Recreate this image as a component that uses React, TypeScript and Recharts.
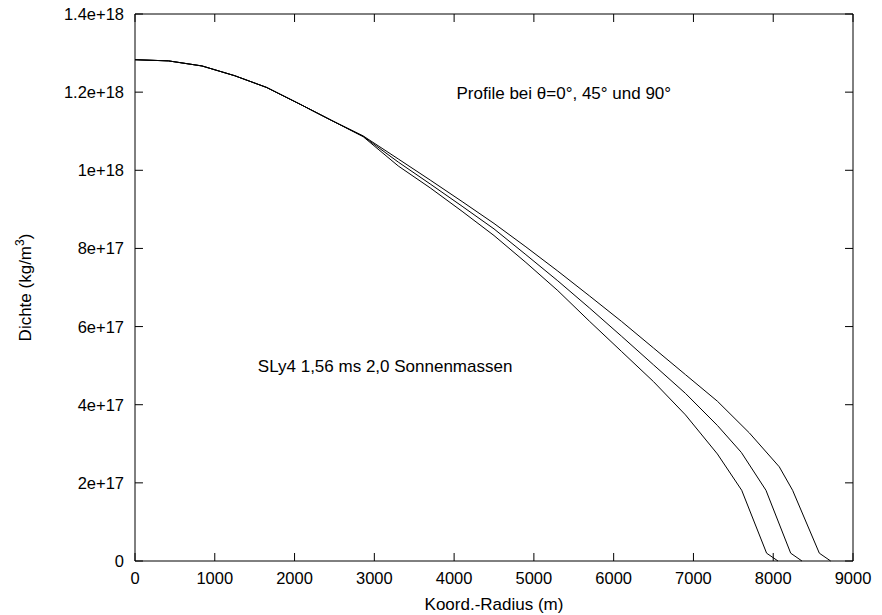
import { Line, LineChart, ReferenceDot, ReferenceLine, XAxis, YAxis } from 'recharts';

// density values are read in units of 1e17 kg/m^3
const UNIT = 1e17;

const X_MAX = 9000;
const Y_MAX = 1.4e18;
const xTicks = [0, 1000, 2000, 3000, 4000, 5000, 6000, 7000, 8000, 9000];
const yTicks = [0, 2e17, 4e17, 6e17, 8e17, 1e18, 1.2e18, 1.4e18];

// theta = 0 deg (innermost curve)
const radius0 = [0, 420, 840, 1250, 1650, 2070, 2460, 2860, 3300, 3700, 4100, 4500, 4900, 5300, 5700, 6100, 6500, 6900, 7300, 7605, 7917, 8060];
const density0 = [12.83, 12.8, 12.67, 12.42, 12.12, 11.69, 11.28, 10.86, 10.11, 9.55, 8.95, 8.33, 7.64, 6.92, 6.13, 5.36, 4.59, 3.74, 2.74, 1.81, 0.2, 0];

// theta = 45 deg
const radius45 = [0, 420, 840, 1250, 1650, 2070, 2460, 2860, 3300, 3700, 4100, 4500, 4900, 5300, 5700, 6100, 6500, 6900, 7300, 7600, 7909, 8219, 8360];
const density45 = [12.83, 12.8, 12.67, 12.42, 12.12, 11.69, 11.28, 10.87, 10.21, 9.65, 9.08, 8.5, 7.84, 7.17, 6.47, 5.75, 5.02, 4.29, 3.47, 2.78, 1.81, 0.2, 0];

// theta = 90 deg (outermost curve)
const radius90 = [0, 420, 840, 1250, 1650, 2070, 2460, 2860, 3300, 3700, 4100, 4500, 4900, 5300, 5700, 6100, 6500, 6900, 7300, 7700, 8076, 8243, 8578, 8720];
const density90 = [12.83, 12.8, 12.67, 12.42, 12.12, 11.69, 11.28, 10.88, 10.29, 9.75, 9.2, 8.64, 8.04, 7.42, 6.78, 6.13, 5.45, 4.77, 4.09, 3.28, 2.41, 1.81, 0.2, 0];

const toPoints = (radius: number[], density: number[]) =>
    radius.map((r, i) => ({ r, d: density[i] * UNIT }));

const series = [
    { key: 'theta0', data: toPoints(radius0, density0) },
    { key: 'theta45', data: toPoints(radius45, density45) },
    { key: 'theta90', data: toPoints(radius90, density90) },
];

const FONT = "'Liberation Sans', Arial, Helvetica, sans-serif";
const TICK_FONT = 16.5;
const TEXT_FONT = 17;
const X_GAP = 11;
const Y_GAP = 11;
// inward tick length (about 8 px) expressed in axis units
const TICK_DX = 100;
const TICK_DY = 2.05e16;

const formatY = (v: number) => (v === 0 ? '0' : v.toExponential());

const BottomTick = (props: any) => (
    <text x={props.x} y={props.y} dy="0.72em" textAnchor="middle" fill="#000" fontSize={TICK_FONT} fontFamily={FONT}>
        {props.payload.value}
    </text>
);

const LeftTick = (props: any) => (
    <text x={props.x} y={props.y} dy="0.36em" textAnchor="end" fill="#000" fontSize={TICK_FONT} fontFamily={FONT}>
        {formatY(props.payload.value)}
    </text>
);

const YTitle = (props: any) => {
    const vb = props.viewBox;
    const x = vb.x + 25;
    const y = vb.y + vb.height / 2;
    return (
        <text
            x={x}
            y={y}
            transform={`rotate(-90 ${x} ${y})`}
            textAnchor="middle"
            dy="0.36em"
            fill="#000"
            fontSize={TEXT_FONT}
            fontFamily={FONT}
        >
            Dichte (kg/m
            <tspan dy={-7} fontSize={12}>3</tspan>
            <tspan dy={7}>)</tspan>
        </text>
    );
};

const tickSegment = (key: string, a: { x: number; y: number }, b: { x: number; y: number }) => (
    <ReferenceLine
        key={key}
        xAxisId="bottom"
        yAxisId="left"
        segment={[a, b]}
        stroke="#000"
        strokeWidth={1}
        ifOverflow="visible"
    />
);

export default function App() {
    return (
        <div style={{ width: 882, height: 615, position: 'relative', top: -8, left: -8, fontFamily: FONT }}>
            <LineChart width={882} height={615} margin={{ top: 13, right: 28, bottom: 0, left: 0 }}>
                <XAxis
                    xAxisId="bottom"
                    type="number"
                    dataKey="r"
                    domain={[0, X_MAX]}
                    ticks={xTicks}
                    allowDataOverflow
                    height={54}
                    stroke="#000"
                    tickLine={false}
                    tickSize={0}
                    tickMargin={X_GAP}
                    tick={<BottomTick />}
                    interval={0}
                    label={{ value: 'Koord.-Radius (m)', position: 'insideBottom', offset: 5, fill: '#000', fontSize: TEXT_FONT, fontFamily: FONT }}
                />
                <XAxis
                    xAxisId="top"
                    orientation="top"
                    type="number"
                    domain={[0, X_MAX]}
                    height={1}
                    stroke="#000"
                    tickLine={false}
                    tick={false}
                />
                <YAxis
                    yAxisId="left"
                    type="number"
                    domain={[0, Y_MAX]}
                    ticks={yTicks}
                    width={135}
                    stroke="#000"
                    tickLine={false}
                    tickSize={0}
                    tickMargin={Y_GAP}
                    tick={<LeftTick />}
                    interval={0}
                    label={{ content: YTitle }}
                />
                <YAxis
                    yAxisId="right"
                    orientation="right"
                    type="number"
                    domain={[0, Y_MAX]}
                    width={1}
                    stroke="#000"
                    tickLine={false}
                    tick={false}
                />
                {xTicks.map((v) => tickSegment(`xb${v}`, { x: v, y: 0 }, { x: v, y: TICK_DY }))}
                {xTicks.map((v) => tickSegment(`xt${v}`, { x: v, y: Y_MAX }, { x: v, y: Y_MAX - TICK_DY }))}
                {yTicks.map((v) => tickSegment(`yl${v}`, { x: 0, y: v }, { x: TICK_DX, y: v }))}
                {yTicks.map((v) => tickSegment(`yr${v}`, { x: X_MAX, y: v }, { x: X_MAX - TICK_DX, y: v }))}
                {series.map((s) => (
                    <Line
                        key={s.key}
                        xAxisId="bottom"
                        yAxisId="left"
                        data={s.data}
                        dataKey="d"
                        type="linear"
                        stroke="#000"
                        strokeWidth={1}
                        dot={false}
                        activeDot={false}
                        isAnimationActive={false}
                    />
                ))}
                <ReferenceDot
                    xAxisId="bottom"
                    yAxisId="left"
                    x={4030}
                    y={1.198e18}
                    r={0}
                    fill="none"
                    stroke="none"
                    label={{ value: 'Profile bei θ=0°, 45° und 90°', position: 'right', offset: 0, fill: '#000', fontSize: TEXT_FONT, fontFamily: FONT }}
                />
                <ReferenceDot
                    xAxisId="bottom"
                    yAxisId="left"
                    x={1540}
                    y={4.99e17}
                    r={0}
                    fill="none"
                    stroke="none"
                    label={{ value: 'SLy4 1,56 ms 2,0 Sonnenmassen', position: 'right', offset: 0, fill: '#000', fontSize: TEXT_FONT, fontFamily: FONT }}
                />
            </LineChart>
        </div>
    );
}
